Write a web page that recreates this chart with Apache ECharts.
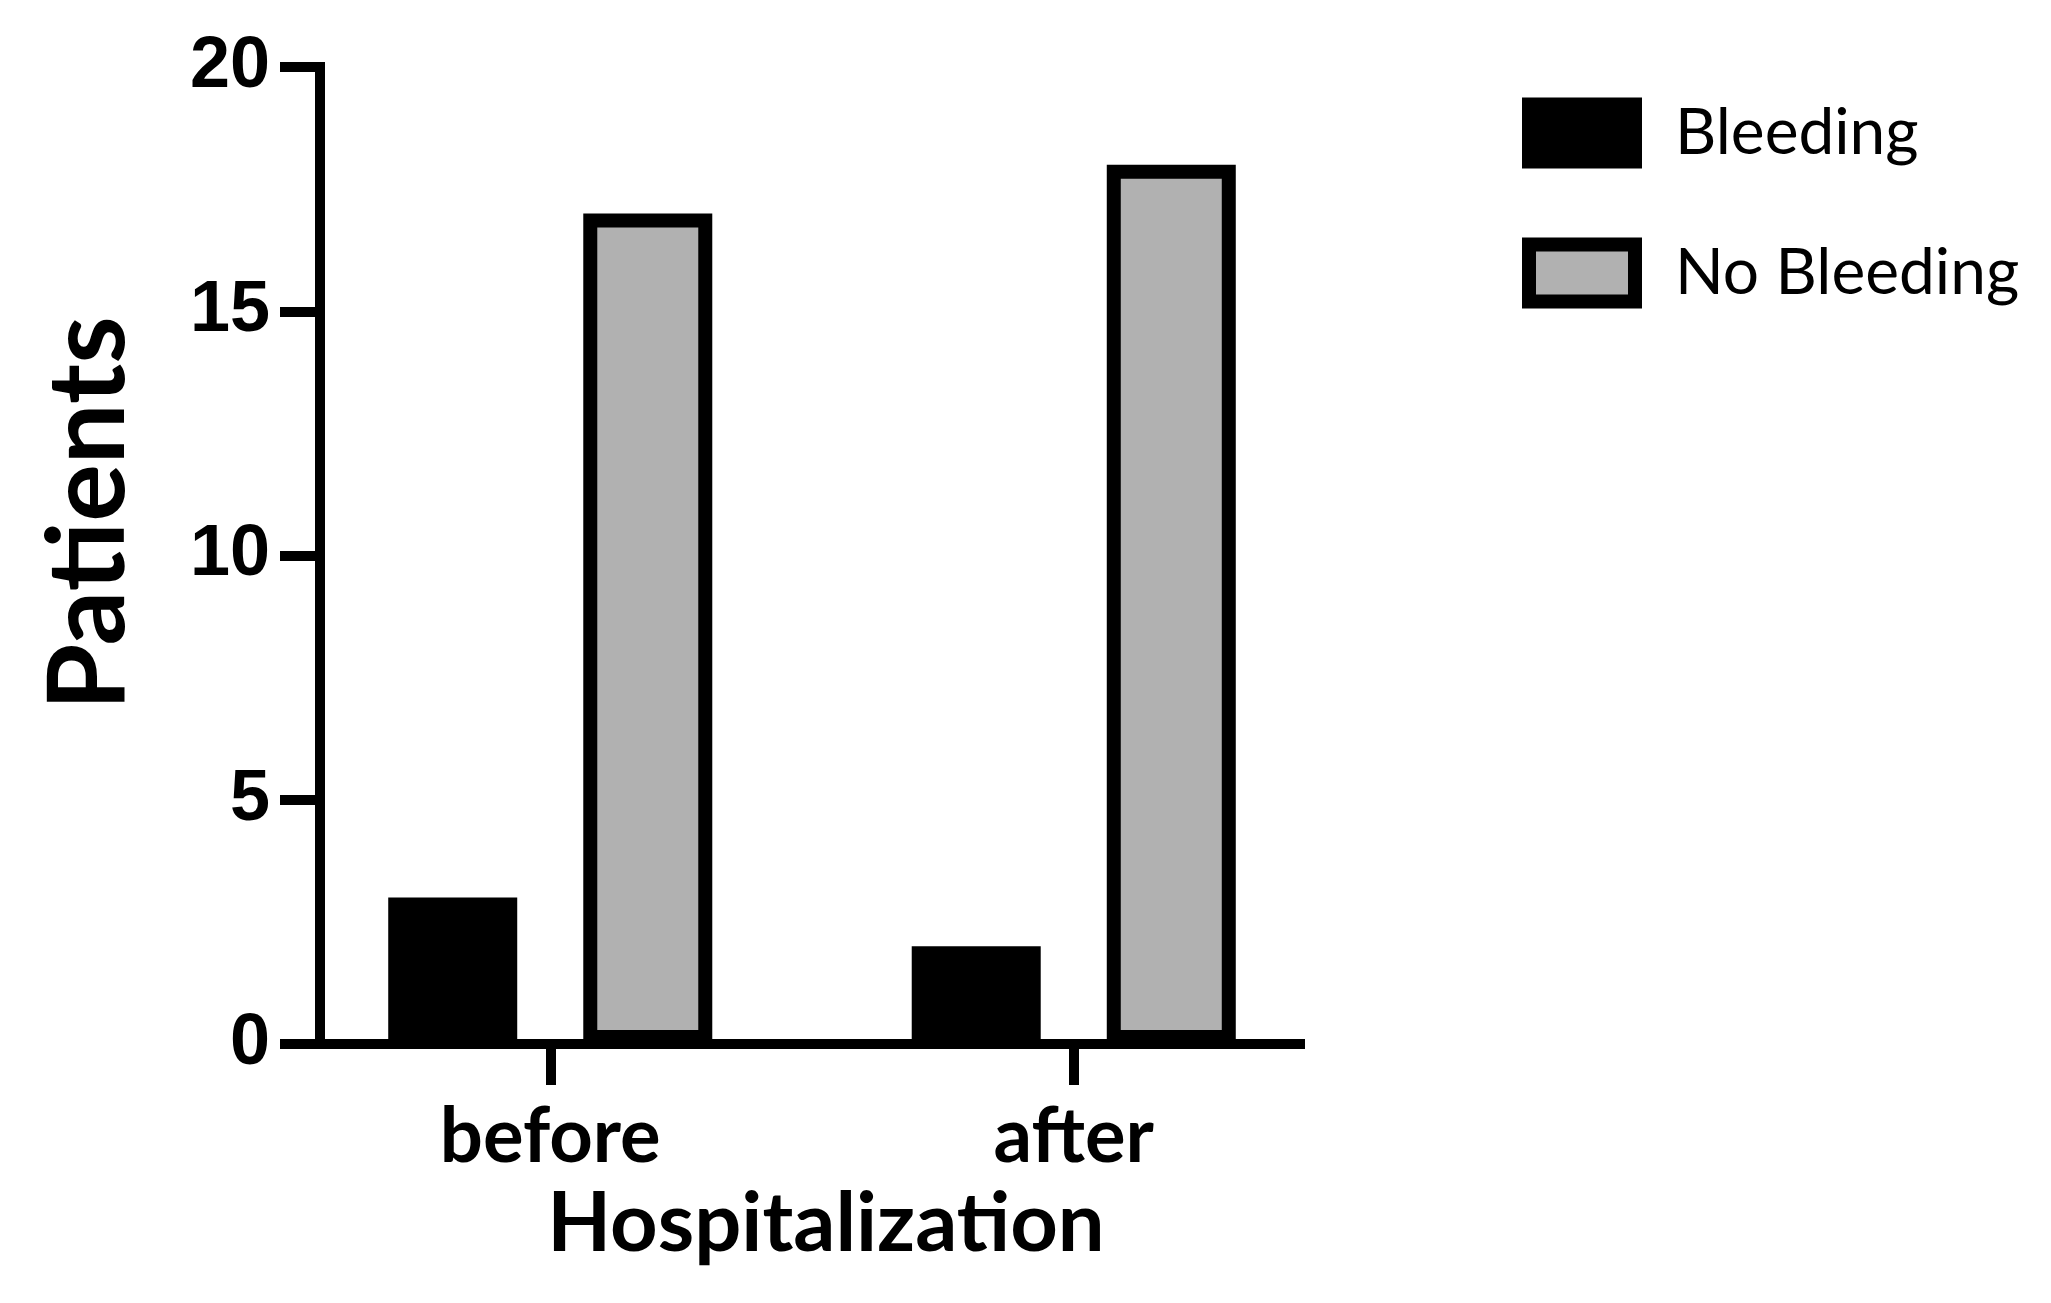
<!DOCTYPE html>
<html>
<head>
<meta charset="utf-8">
<script src="https://cdn.jsdelivr.net/npm/echarts@6/dist/echarts.min.js"></script>
<style>
  html, body { margin: 0; padding: 0; background: #fff; }
  #chart { width: 2051px; height: 1303px; }
</style>
</head>
<body>
<div id="chart"></div>
<script>
const categories = ['before', 'after']
const seriesNames = ['Bleeding', 'No Bleeding']
const bleeding = [3, 2]
const noBleeding = [17, 18]
const yTicks = [0, 5, 10, 15, 20]

const C = { ink: '#000', gray: '#b1b1b1' }
const boldTitle = { fontFamily: 'Lato', fontWeight: 'bold', color: C.ink }

// grid 0 holds the bars, grid 1 draws the visible axis lines
const plotTop = 67
const plotHeight = 977

const chart = echarts.init(document.getElementById('chart'), null, { renderer: 'canvas' })

chart.setOption({
  animation: false,
  backgroundColor: '#fff',
  grid: [
    { left: 288.5, top: plotTop, width: 1047, height: plotHeight, containLabel: false },
    { left: 320, top: plotTop, width: 980, height: plotHeight, containLabel: false },
  ],
  legend: {
    orient: 'vertical',
    left: 1522,
    top: 97.5,
    padding: 0,
    icon: 'rect',
    itemWidth: 106,
    itemHeight: 57,
    itemGap: 69,
    selectedMode: false,
    itemStyle: { borderWidth: 14, borderColor: C.ink },
    textStyle: { fontFamily: 'Lato', fontSize: 64, color: C.ink, padding: [0, 0, 40, 35] },
    data: seriesNames,
  },
  xAxis: [
    {
      gridIndex: 0,
      type: 'category',
      data: categories,
      axisLine: { show: false },
      axisTick: { show: true, alignWithLabel: true, length: 41, lineStyle: { color: C.ink, width: 10 } },
      axisLabel: { margin: 55, fontSize: 76, ...boldTitle },
      name: 'Hospitalization',
      nameLocation: 'middle',
      nameGap: 139,
      nameTextStyle: { fontSize: 83, padding: [0, 0, 0, 28], ...boldTitle },
    },
    {
      gridIndex: 1,
      type: 'category',
      data: categories,
      axisLine: { show: true, lineStyle: { color: C.ink, width: 10, cap: 'square' } },
      axisTick: { show: false },
      axisLabel: { show: false },
    },
  ],
  yAxis: [
    { gridIndex: 0, type: 'value', min: yTicks[0], max: yTicks[yTicks.length - 1], show: false },
    {
      gridIndex: 1,
      type: 'value',
      min: yTicks[0],
      max: yTicks[yTicks.length - 1],
      interval: yTicks[1] - yTicks[0],
      axisLine: { show: true, lineStyle: { color: C.ink, width: 10, cap: 'square' } },
      axisTick: { show: true, length: 40, lineStyle: { color: C.ink, width: 10 } },
      axisLabel: { margin: 50, fontFamily: 'Liberation Sans', fontWeight: 'bold', fontSize: 72, color: C.ink },
      splitLine: { show: false },
      name: 'Patients',
      nameLocation: 'middle',
      nameGap: 177,
      nameTextStyle: { fontSize: 108, padding: [0, 0, 0, 84], ...boldTitle },
    },
  ],
  series: [
    {
      name: seriesNames[0],
      type: 'bar',
      xAxisIndex: 0,
      yAxisIndex: 0,
      data: bleeding,
      barWidth: 129,
      barGap: '51.2%',
      itemStyle: { color: C.ink },
    },
    {
      name: seriesNames[1],
      type: 'bar',
      xAxisIndex: 0,
      yAxisIndex: 0,
      data: noBleeding,
      barWidth: 129,
      barGap: '51.2%',
      itemStyle: { color: C.gray, borderColor: C.ink, borderWidth: 14 },
    },
  ],
})
</script>
</body>
</html>
